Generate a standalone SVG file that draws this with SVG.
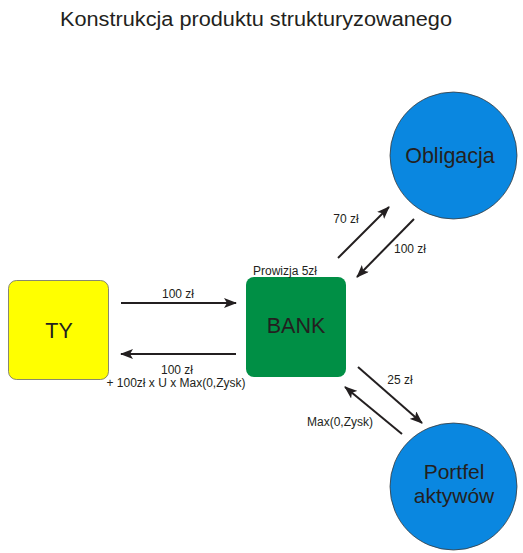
<svg xmlns="http://www.w3.org/2000/svg" width="523" height="553" viewBox="0 0 523 553">
<style>
text{font-family:"Liberation Sans",Arial,sans-serif;fill:#231f20}
.big{font-size:21.5px}
.sm{font-size:12px}
.c{stroke:#231f20;stroke-width:2;fill:none}
.circ{fill:#0a87e0;stroke:#3a3a3a;stroke-width:0.8}
</style>
<defs>
<marker id="ah" viewBox="0 0 13 10" refX="12" refY="5" markerWidth="13" markerHeight="10" markerUnits="userSpaceOnUse" orient="auto">
<path d="M0,0 L13,5 L0,10 L3,5 Z" fill="#231f20"/>
</marker>
</defs>
<rect width="523" height="553" fill="#fff"/>
<text x="60" y="26" textLength="392" lengthAdjust="spacingAndGlyphs" style="font-size:19.5px">Konstrukcja produktu strukturyzowanego</text>
<g id="ty">
<rect x="8.5" y="280.5" width="100" height="99" rx="8" fill="#ffff00" stroke="#6a6a6a" stroke-width="0.8"/>
<text x="59" y="338" class="big" text-anchor="middle">TY</text>
</g>
<g id="bank">
<rect x="246" y="277" width="100" height="100" rx="8" fill="#008f45"/>
<text x="296" y="333" class="big" text-anchor="middle">BANK</text>
<text x="285" y="275" class="sm" text-anchor="middle">Prowizja 5zł</text>
</g>
<g id="obligacja">
<circle cx="453.5" cy="155.5" r="63.5" class="circ"/>
<text x="450" y="163" class="big" text-anchor="middle">Obligacja</text>
</g>
<g id="portfel">
<circle cx="453.5" cy="486.5" r="63.5" class="circ"/>
<text x="454" y="479" class="big" text-anchor="middle" style="font-size:21px">Portfel</text>
<text x="454" y="503" class="big" text-anchor="middle" style="font-size:21px">aktywów</text>
</g>
<g id="connectors">
<line x1="121" y1="303" x2="236" y2="303" class="c" marker-end="url(#ah)"/>
<line x1="236" y1="354" x2="121" y2="354" class="c" marker-end="url(#ah)"/>
<line x1="338" y1="258" x2="389" y2="207" class="c" marker-end="url(#ah)"/>
<line x1="414" y1="219" x2="357" y2="277" class="c" marker-end="url(#ah)"/>
<line x1="358" y1="367" x2="422" y2="423" class="c" marker-end="url(#ah)"/>
<line x1="402" y1="434" x2="345" y2="387" class="c" marker-end="url(#ah)"/>
<text x="178" y="298" class="sm" text-anchor="middle">100 zł</text>
<text x="177" y="374" class="sm" text-anchor="middle">100 zł</text>
<text x="176" y="387" class="sm" text-anchor="middle">+ 100zł x U x Max(0,Zysk)</text>
<text x="346" y="223" class="sm" text-anchor="middle">70 zł</text>
<text x="410" y="253" class="sm" text-anchor="middle">100 zł</text>
<text x="400" y="384" class="sm" text-anchor="middle">25 zł</text>
<text x="340" y="426" class="sm" text-anchor="middle">Max(0,Zysk)</text>
</g>
</svg>
